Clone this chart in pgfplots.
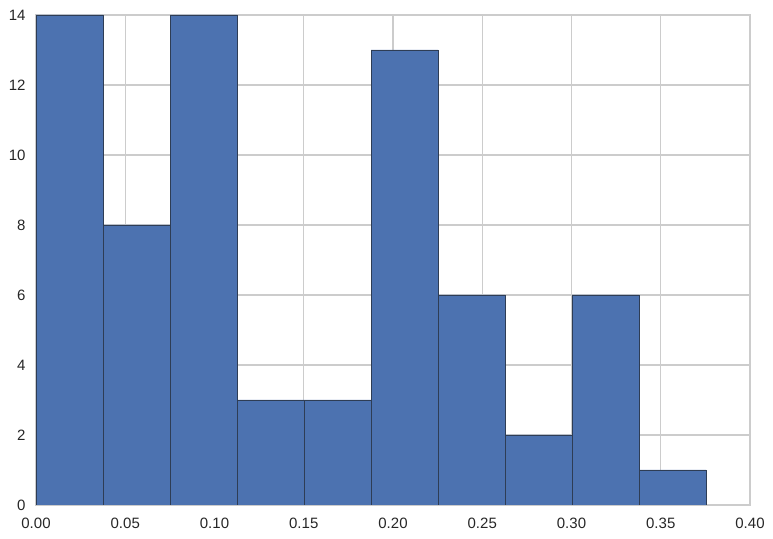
\documentclass[border=0pt]{standalone}
\usepackage{fontspec}
\setmainfont{Liberation Sans}
\usepackage{pgfplots}
\pgfplotsset{compat=1.18}
\definecolor{barblue}{HTML}{4C72B0}
\definecolor{baredge}{HTML}{2E3D55}
\definecolor{gridgray}{HTML}{CCCCCC}
\begin{document}
\begin{tikzpicture}
\begin{axis}[
  scale only axis,
  width=714bp, height=490bp,
  xmin=0, xmax=0.40, ymin=0, ymax=14,
  xtick={0,0.05,...,0.40},
  ytick={0,2,...,14},
  xticklabel style={/pgf/number format/fixed, /pgf/number format/fixed zerofill, /pgf/number format/precision=2},
  /pgf/number format/assume math mode=true,
  tick label style={font=\fontsize{15bp}{17bp}\selectfont, text=black!85},
  major tick length=0pt,
  grid=major,
  grid style={gridgray, line width=1.1pt},
  axis line style={gridgray, line width=1.1pt},
  xticklabel shift=10bp,
  yticklabel shift=7bp,
]
\addplot[ybar interval, fill=barblue, draw=baredge, line width=0.6pt] coordinates {
  (0,14) (0.03754,8) (0.07508,14) (0.11262,3) (0.15016,3) (0.18770,13)
  (0.22524,6) (0.26278,2) (0.30032,6) (0.33786,1) (0.37540,1)
};
\coordinate (bl) at (rel axis cs:0,0);
\coordinate (tr) at (rel axis cs:1,1);
\end{axis}
\pgfresetboundingbox
\path[use as bounding box] ([xshift=-36bp,yshift=-34bp]bl) rectangle ([xshift=23bp,yshift=15bp]tr);
\end{tikzpicture}
\end{document}
